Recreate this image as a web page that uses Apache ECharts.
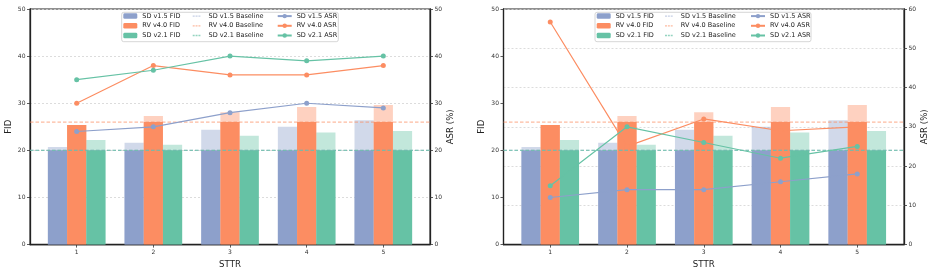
<!DOCTYPE html>
<html>
<head>
<meta charset="utf-8">
<script src="https://cdn.jsdelivr.net/npm/echarts@6/dist/echarts.min.js"></script>
<style>
  html, body { margin: 0; padding: 0; background: #fff; }
  #chart { width: 933px; height: 274px; }
</style>
</head>
<body>
<div id="chart"></div>
<script>
// STTR steps (x ticks)
const sttr = [1, 2, 3, 4, 5]

// FID per model (same in both panels)
const fidSd15 = [20.7, 21.6, 24.4, 25.0, 26.4]
const fidRv40 = [25.4, 27.3, 28.1, 29.2, 29.6]
const fidSd21 = [22.2, 21.2, 23.1, 23.8, 24.1]

// baseline FID per model
const baseSd15 = 20
const baseRv40 = 26
const baseSd21 = 20

// ASR (%) left panel
const asrLeftSd15 = [24, 25, 28, 30, 29]
const asrLeftRv40 = [30, 38, 36, 36, 38]
const asrLeftSd21 = [35, 37, 40, 39, 40]

// ASR (%) right panel
const asrRightSd15 = [12, 14, 14, 16, 18]
const asrRightRv40 = [56.7, 25, 32, 29, 30]
const asrRightSd21 = [15, 30, 26, 22, 25]

// axis limits
const xMin = 0.391
const xMax = 5.609
const fidMax = 50
const asrLeftMax = 50
const asrRightMax = 60

const colSd15 = '#8da0cb'
const colRv40 = '#fc8d62'
const colSd21 = '#66c2a5'
const lightSd15 = 'rgba(141,160,203,0.4)'
const lightRv40 = 'rgba(252,141,98,0.4)'
const lightSd21 = 'rgba(102,194,165,0.4)'
const baseColSd15 = 'rgba(141,160,203,0.5)'
const baseColRv40 = 'rgba(252,141,98,0.6)'
const baseColSd21 = 'rgba(102,194,165,0.7)'

const FONT = 'DejaVu Sans'
const grids = [
  { left: 30, top: 9, width: 400, height: 237.7 },
  { left: 503.5, top: 9, width: 400.5, height: 237.7 }
]

// dashed legend icon for the baseline entries
const dashIcon = 'path://M0,0Z M14,10Z M0,3.8h3.6v2.4h-3.6z M5.2,3.8h3.6v2.4h-3.6z M10.4,3.8h3.6v2.4h-3.6z'

function xAxisFor (gi, visible) {
  return {
    type: 'value',
    gridIndex: gi,
    show: visible,
    min: xMin,
    max: xMax,
    name: 'STTR',
    nameLocation: 'middle',
    nameGap: 12,
    nameTextStyle: { fontFamily: FONT, fontSize: 8.6, color: '#222' },
    axisLine: { show: true, lineStyle: { color: '#222', width: 1.3 } },
    axisTick: { show: true, customValues: sttr, length: 3, lineStyle: { color: '#333', width: 0.8 } },
    axisLabel: { customValues: sttr, fontFamily: FONT, fontSize: 6, color: '#333', margin: 4.5 },
    splitLine: { show: false }
  }
}

function yAxisFor (gi, side, max, showSplit, name) {
  return {
    type: 'value',
    gridIndex: gi,
    position: side,
    min: 0,
    max: max,
    interval: 10,
    name: name,
    nameLocation: 'middle',
    nameRotate: 90,
    nameGap: side === 'left' ? 17 : 15,
    nameTextStyle: { fontFamily: FONT, fontSize: 8.6, color: '#222' },
    axisLine: { show: true, lineStyle: { color: '#222', width: 1.3 } },
    axisTick: { show: true, length: 3, lineStyle: { color: '#333', width: 0.8 } },
    axisLabel: { fontFamily: FONT, fontSize: 6, color: '#333', margin: 4.5 },
    splitLine: { show: showSplit, lineStyle: { color: '#d4d4d4', width: 0.8, type: [2, 2] } }
  }
}

function pts (ys) {
  return sttr.map((x, i) => [x, ys[i]])
}

// light bar = full value, drawn on the visible x axis
function lightBar (name, vals, color, xi, yi) {
  return {
    name: name + ' (above baseline)',
    type: 'bar',
    xAxisIndex: xi,
    yAxisIndex: yi,
    barWidth: 19.2,
    barGap: '0%',
    silent: true,
    itemStyle: { color: color },
    data: pts(vals)
  }
}

// solid bar = value clipped at baseline, drawn on the twin (hidden) x axis
function solidBar (name, vals, base, color, xi, yi) {
  return {
    name: name,
    type: 'bar',
    xAxisIndex: xi,
    yAxisIndex: yi,
    barWidth: 19.2,
    barGap: '0%',
    itemStyle: { color: color },
    data: sttr.map((x, i) => [x, Math.min(vals[i], base)])
  }
}

function baseLine (name, y, color, xi, yi) {
  return {
    name: name,
    type: 'line',
    xAxisIndex: xi,
    yAxisIndex: yi,
    symbol: 'none',
    silent: true,
    lineStyle: { color: color, width: 1.2, type: [3.5, 2] },
    itemStyle: { color: color },
    z: 3,
    data: [[xMin, y], [xMax, y]]
  }
}

function asrLine (name, ys, color, xi, yi) {
  return {
    name: name,
    type: 'line',
    xAxisIndex: xi,
    yAxisIndex: yi,
    symbol: 'circle',
    symbolSize: 5,
    lineStyle: { color: color, width: 1.2 },
    itemStyle: { color: color },
    z: 4,
    data: pts(ys)
  }
}

function panel (gi, a15, aRv, a21) {
  const xv = gi * 2
  const xh = gi * 2 + 1
  const yf = gi * 2
  const ya = gi * 2 + 1
  return [
    lightBar('SD v1.5 FID', fidSd15, lightSd15, xv, yf),
    lightBar('RV v4.0 FID', fidRv40, lightRv40, xv, yf),
    lightBar('SD v2.1 FID', fidSd21, lightSd21, xv, yf),
    solidBar('SD v1.5 FID', fidSd15, baseSd15, colSd15, xh, yf),
    solidBar('RV v4.0 FID', fidRv40, baseRv40, colRv40, xh, yf),
    solidBar('SD v2.1 FID', fidSd21, baseSd21, colSd21, xh, yf),
    baseLine('SD v1.5 Baseline', baseSd15, baseColSd15, xv, yf),
    baseLine('RV v4.0 Baseline', baseRv40, baseColRv40, xv, yf),
    baseLine('SD v2.1 Baseline', baseSd21, baseColSd21, xv, yf),
    asrLine('SD v1.5 ASR', a15, colSd15, xv, ya),
    asrLine('RV v4.0 ASR', aRv, colRv40, xv, ya),
    asrLine('SD v2.1 ASR', a21, colSd21, xv, ya)
  ]
}

const legendCols = [
  ['SD v1.5 FID', 'RV v4.0 FID', 'SD v2.1 FID'],
  ['SD v1.5 Baseline', 'RV v4.0 Baseline', 'SD v2.1 Baseline'].map(n => ({ name: n, icon: dashIcon })),
  ['SD v1.5 ASR', 'RV v4.0 ASR', 'SD v2.1 ASR']
]
const legendLefts = [[123.3, 192.7, 276.7], [596.7, 665, 750]]

const legends = []
legendLefts.forEach(lefts => {
  lefts.forEach((l, c) => {
    legends.push({
      orient: 'vertical',
      left: l,
      top: 12.6,
      padding: 0,
      itemWidth: 14,
      itemHeight: 5.5,
      itemGap: 2.7,
      selectedMode: false,
      textStyle: { fontFamily: FONT, fontSize: 6.5, color: '#222', lineHeight: 7 },
      data: legendCols[c]
    })
  })
})

const chart = echarts.init(document.getElementById('chart'), null, { renderer: 'canvas' })
chart.setOption({
  animation: false,
  backgroundColor: '#fff',
  grid: grids.map(g => Object.assign({ show: true, borderColor: '#222', borderWidth: 1.1, backgroundColor: 'transparent' }, g)),
  legend: legends,
  graphic: [
    { type: 'rect', z: 3, shape: { x: 121.7, y: 12.3, width: 216.6, height: 29.4, r: 2 }, style: { fill: 'rgba(255,255,255,0.8)', stroke: '#cccccc', lineWidth: 0.8 } },
    { type: 'rect', z: 3, shape: { x: 595, y: 12.3, width: 216, height: 29.4, r: 2 }, style: { fill: 'rgba(255,255,255,0.8)', stroke: '#cccccc', lineWidth: 0.8 } }
  ],
  xAxis: [xAxisFor(0, true), xAxisFor(0, false), xAxisFor(1, true), xAxisFor(1, false)],
  yAxis: [
    yAxisFor(0, 'left', fidMax, true, 'FID'),
    yAxisFor(0, 'right', asrLeftMax, false, 'ASR (%)'),
    yAxisFor(1, 'left', fidMax, false, 'FID'),
    yAxisFor(1, 'right', asrRightMax, true, 'ASR (%)')
  ],
  series: [
    ...panel(0, asrLeftSd15, asrLeftRv40, asrLeftSd21),
    ...panel(1, asrRightSd15, asrRightRv40, asrRightSd21)
  ]
})
</script>
</body>
</html>
